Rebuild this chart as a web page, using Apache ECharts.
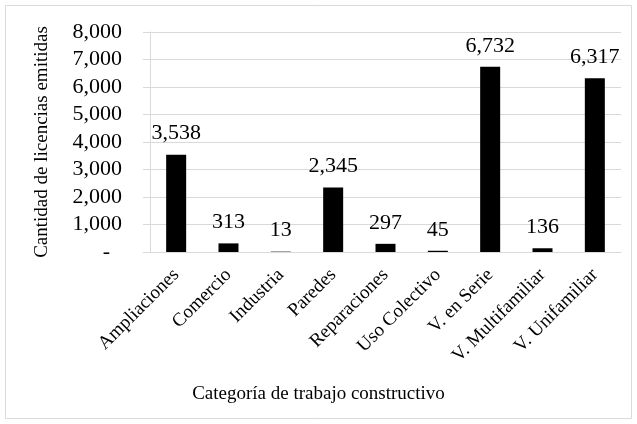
<!DOCTYPE html>
<html lang="es">
<head>
    <meta charset="UTF-8">
    <title>Licencias</title>
</head>
<style>
    html, body{
        margin: 0;
        padding: 0;
        background-color: #fff;
    }
    .main{
        width: 637px;
        height: 424px;
    }
</style>
<body>
<div id="main" class="main"></div>
<script src="https://cdn.jsdelivr.net/npm/echarts@6/dist/echarts.min.js"></script>
<script>
    var categorias = ['Ampliaciones', 'Comercio', 'Industria', 'Paredes', 'Reparaciones',
        'Uso Colectivo', 'V. en Serie', 'V. Multifamiliar', 'V. Unifamiliar'];
    var licencias = [3538, 313, 13, 2345, 297, 45, 6732, 136, 6317];

    var fuente = '"Liberation Serif", "Times New Roman", serif';

    function miles(v) {
        return Number(v).toLocaleString('en-US');
    }

    var app = echarts.init(document.getElementById('main'));

    var option = {
        animation: false,
        textStyle: {fontFamily: fuente, color: '#000'},
        title: {
            text: 'Categoría de trabajo constructivo',
            left: 'center',
            top: 380,
            textStyle: {fontFamily: fuente, fontSize: 19, fontWeight: 'normal', color: '#000'}
        },
        graphic: [{
            type: 'rect',
            shape: {x: 5.5, y: 5.5, width: 626, height: 413},
            style: {fill: 'none', stroke: '#d9d9d9', lineWidth: 1},
            silent: true
        }],
        grid: {left: 150, right: 16, top: 32, bottom: 172},
        xAxis: {
            type: 'category',
            data: categorias,
            axisLine: {lineStyle: {color: '#d9d9d9'}},
            axisTick: {show: false},
            axisLabel: {
                rotate: 45,
                margin: 20,
                interval: 0,
                fontFamily: fuente,
                fontSize: 19,
                color: '#000'
            }
        },
        yAxis: {
            type: 'value',
            min: 0,
            max: 8000,
            interval: 1000,
            name: 'Cantidad de licencias emitidas',
            nameLocation: 'middle',
            nameGap: 98,
            nameTextStyle: {fontFamily: fuente, fontSize: 19, color: '#000'},
            axisLine: {show: true, lineStyle: {color: '#d9d9d9'}},
            axisTick: {show: true, length: 7, lineStyle: {color: '#d9d9d9'}},
            splitLine: {lineStyle: {color: '#d9d9d9'}},
            axisLabel: {
                margin: 28,
                fontFamily: fuente,
                fontSize: 22,
                color: '#000',
                formatter: function (v) {
                    if (v === 0) return '{d|-}';
                    return miles(v);
                },
                rich: {
                    d: {fontFamily: fuente, fontSize: 22, color: '#000', padding: [0, 12, 0, 0]}
                }
            }
        },
        series: [{
            type: 'bar',
            data: licencias,
            barWidth: 20,
            itemStyle: {color: '#000'},
            label: {
                show: true,
                position: 'top',
                distance: 10,
                fontFamily: fuente,
                fontSize: 22,
                color: '#000',
                formatter: function (p) {
                    return miles(p.value);
                }
            }
        }]
    };
    app.setOption(option);
</script>
</body>
</html>
